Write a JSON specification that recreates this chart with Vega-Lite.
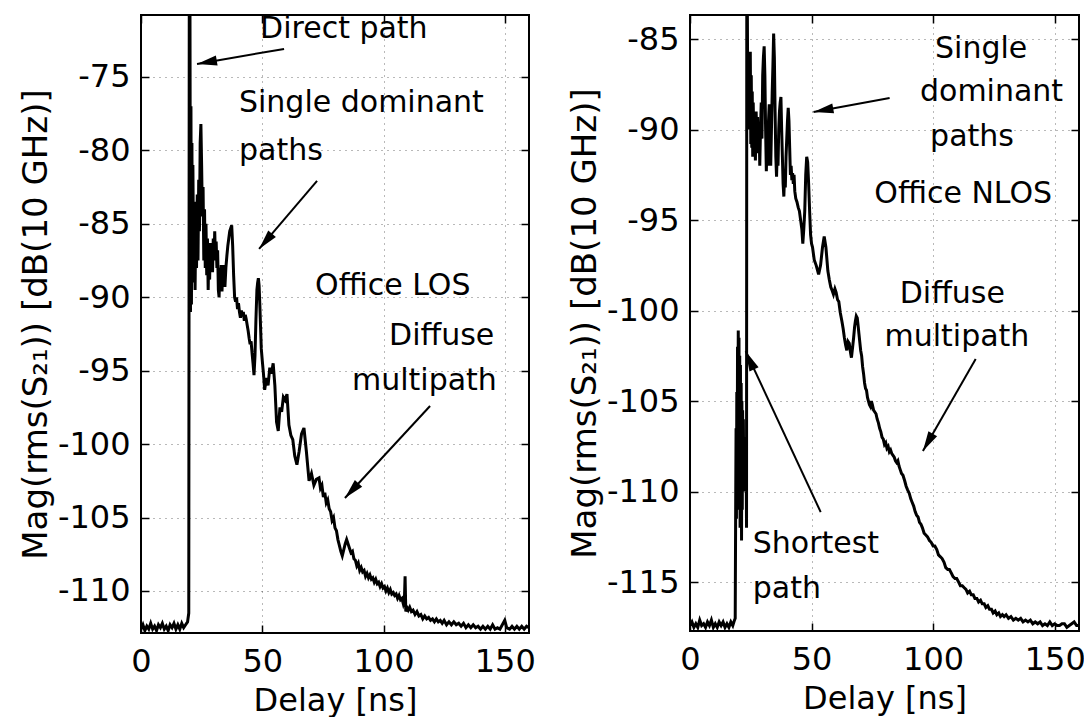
{
  "$schema": "https://vega.github.io/schema/vega-lite/v6.json",
  "background": "white",
  "padding": {"left": 18, "top": 12, "right": 4, "bottom": 0},
  "bounds": "flush",
  "spacing": 161,
  "config": {
    "font": "DejaVu Sans",
    "view": {"stroke": "black", "strokeWidth": 2},
    "axis": {
      "labelFont": "DejaVu Sans", "labelFontSize": 32, "labelColor": "black", "labelFlush": false,
      "titleFont": "DejaVu Sans", "titleFontWeight": "normal", "titleColor": "black",
      "domain": false, "tickColor": "black", "tickSize": -8, "tickWidth": 1.5,
      "grid": true, "gridColor": "black", "gridDash": [1, 5], "gridOpacity": 0.55, "gridWidth": 1,
      "labelExpr": "'' + datum.value"
    }
  },
  "datasets": {
    "los": [
      {"t":0,"v":-112.6},{"t":0.8,"v":-112.3},{"t":1.6,"v":-112.7},{"t":2.4,"v":-112.4},{"t":3.2,"v":-112.6},{"t":4.0,"v":-112.2},{"t":4.8,"v":-112.6},{"t":5.6,"v":-112.4},{"t":6.4,"v":-112.7},{"t":7.2,"v":-112.3},{"t":8.0,"v":-112.5},{"t":8.8,"v":-112.2},{"t":9.6,"v":-112.6},{"t":10.4,"v":-112.4},{"t":11.2,"v":-112.7},{"t":12.0,"v":-112.3},{"t":12.8,"v":-112.5},{"t":13.6,"v":-112.2},{"t":14.4,"v":-112.6},{"t":15.2,"v":-112.3},{"t":16.0,"v":-112.6},{"t":16.8,"v":-112.2},{"t":17.6,"v":-112.5},{"t":18.4,"v":-112.3},{"t":19.2,"v":-112.1},{"t":19.7,"v":-111.5},
      {"t":19.9,"v":-70.78},{"t":20.2,"v":-70.78},{"t":20.4,"v":-91.0},{"t":20.6,"v":-77.0},{"t":20.8,"v":-90.5},{"t":21.0,"v":-79.5},{"t":21.2,"v":-89.0},{"t":21.4,"v":-81.0},{"t":21.7,"v":-88.5},{"t":22.0,"v":-83.5},{"t":22.3,"v":-89.5},{"t":22.6,"v":-84.5},{"t":22.9,"v":-88.0},{"t":23.2,"v":-83.0},{"t":23.5,"v":-87.5},{"t":23.8,"v":-82.0},{"t":24.1,"v":-85.5},{"t":24.4,"v":-79.5},{"t":24.7,"v":-78.2},{"t":25.0,"v":-81.0},{"t":25.3,"v":-84.5},{"t":25.6,"v":-82.5},{"t":25.9,"v":-87.5},{"t":26.2,"v":-84.0},{"t":26.5,"v":-88.0},{"t":26.8,"v":-85.0},{"t":27.1,"v":-88.5},{"t":27.4,"v":-86.0},{"t":27.7,"v":-89.5},{"t":28.0,"v":-86.5},{"t":28.3,"v":-88.8},{"t":28.6,"v":-86.3},{"t":28.9,"v":-88.0},{"t":29.2,"v":-86.8},{"t":29.5,"v":-88.3},{"t":29.8,"v":-86.0},{"t":30.1,"v":-87.5},{"t":30.4,"v":-85.5},{"t":30.7,"v":-87.3},{"t":31.0,"v":-86.2},{"t":31.3,"v":-88.0},{"t":31.6,"v":-86.8},{"t":31.9,"v":-89.5},{"t":32.2,"v":-90.0},{"t":32.5,"v":-88.0},{"t":32.8,"v":-89.0},{"t":33.1,"v":-87.8},{"t":33.4,"v":-89.6},{"t":33.7,"v":-88.2},{"t":34.0,"v":-89.0},{"t":34.3,"v":-87.8},{"t":34.6,"v":-89.3},{"t":35.0,"v":-88.0},{"t":35.4,"v":-87.2},{"t":35.8,"v":-86.5},{"t":36.2,"v":-86.0},{"t":36.6,"v":-85.5},{"t":37.0,"v":-85.3},{"t":37.4,"v":-85.1},{"t":37.8,"v":-86.5},{"t":38.2,"v":-88.5},{"t":38.6,"v":-90.0},{"t":39.0,"v":-90.3},{"t":39.4,"v":-90.0},{"t":39.8,"v":-90.8},{"t":40.2,"v":-90.4},{"t":40.6,"v":-91.0},{"t":41.0,"v":-91.4},{"t":41.4,"v":-90.9},{"t":41.8,"v":-91.3},{"t":42.2,"v":-91.0},{"t":42.6,"v":-91.6},{"t":43.0,"v":-91.2},{"t":43.4,"v":-91.5},{"t":43.8,"v":-91.9},{"t":44.2,"v":-92.3},{"t":44.6,"v":-92.8},{"t":45.0,"v":-93.2},{"t":45.4,"v":-93.0},{"t":45.8,"v":-93.8},{"t":46.2,"v":-94.5},{"t":46.6,"v":-95.3},{"t":47.0,"v":-94.0},{"t":47.4,"v":-91.5},{"t":47.8,"v":-89.5},{"t":48.1,"v":-89.0},{"t":48.4,"v":-88.7},{"t":48.7,"v":-89.2},{"t":49.0,"v":-90.5},{"t":49.3,"v":-92.0},{"t":49.6,"v":-93.5},{"t":50.0,"v":-94.3},
      {"t":50.5,"v":-95.2},{"t":51.0,"v":-96.3},{"t":51.7,"v":-95.5},{"t":52.4,"v":-96.0},{"t":53.1,"v":-94.8},{"t":53.8,"v":-95.2},{"t":54.5,"v":-94.5},{"t":55.2,"v":-96.0},{"t":55.9,"v":-98.5},{"t":56.6,"v":-99.1},{"t":57.3,"v":-97.5},{"t":58.0,"v":-97.8},{"t":58.7,"v":-96.8},{"t":59.4,"v":-97.0},{"t":60.2,"v":-96.6},{"t":61.0,"v":-98.7},{"t":61.8,"v":-99.4},{"t":62.6,"v":-99.7},{"t":63.4,"v":-100.8},{"t":64.3,"v":-101.4},{"t":65.2,"v":-100.5},{"t":66.2,"v":-99.3},{"t":67.2,"v":-98.9},{"t":68.2,"v":-100.5},{"t":69.3,"v":-102.5},{"t":70.3,"v":-102.0},{"t":71.3,"v":-102.8},{"t":72.3,"v":-102.4},{"t":73.4,"v":-102.3},{"t":74.0,"v":-103.0},{"t":74.6,"v":-102.8},{"t":75.2,"v":-103.6},{"t":75.8,"v":-103.3},{"t":76.4,"v":-104.0},{"t":77.0,"v":-103.8},{"t":77.6,"v":-104.4},{"t":78.2,"v":-104.6},{"t":78.8,"v":-105.2},{"t":79.4,"v":-105.0},{"t":80.0,"v":-105.7},{"t":80.6,"v":-105.9},{"t":81.2,"v":-106.5},{"t":81.8,"v":-106.9},{"t":82.4,"v":-107.3},{"t":83.0,"v":-107.6},{"t":83.6,"v":-107.2},{"t":84.2,"v":-106.8},{"t":84.8,"v":-106.5},{"t":85.4,"v":-106.8},{"t":86.0,"v":-107.1},{"t":86.6,"v":-107.4},{"t":87.2,"v":-107.3},{"t":87.8,"v":-107.8},{"t":88.4,"v":-107.9},{"t":89.0,"v":-108.3},{"t":89.6,"v":-108.1},{"t":90.2,"v":-108.6},{"t":90.8,"v":-108.4},{"t":91.4,"v":-108.7},{"t":92.0,"v":-108.6},{"t":92.6,"v":-109.0},{"t":93.2,"v":-108.8},{"t":93.8,"v":-109.1},{"t":94.4,"v":-108.9},{"t":95.0,"v":-109.2},{"t":95.6,"v":-109.1},{"t":96.2,"v":-109.4},{"t":96.8,"v":-109.2},{"t":97.4,"v":-109.5},{"t":98.0,"v":-109.4},{"t":98.6,"v":-109.7},{"t":99.2,"v":-109.5},{"t":99.8,"v":-109.8},{"t":100.4,"v":-109.7},{"t":101.0,"v":-110.0},{"t":101.6,"v":-109.8},{"t":102.2,"v":-110.1},{"t":102.8,"v":-109.9},{"t":103.4,"v":-110.2},{"t":104.0,"v":-110.1},{"t":104.6,"v":-110.3},{"t":105.2,"v":-110.2},{"t":105.8,"v":-110.5},{"t":106.4,"v":-110.3},{"t":107.0,"v":-110.6},{"t":107.6,"v":-110.5},{"t":108.2,"v":-110.9},{"t":108.6,"v":-110.7},{"t":108.9,"v":-109.0},{"t":109.2,"v":-111.4},{"t":109.6,"v":-111.1},{"t":110.2,"v":-111.3},{"t":110.8,"v":-111.1},{"t":111.5,"v":-111.4},{"t":112.2,"v":-111.3},{"t":113.0,"v":-111.6},{"t":113.8,"v":-111.4},{"t":114.6,"v":-111.7},{"t":115.4,"v":-111.6},{"t":116.2,"v":-111.9},{"t":117.0,"v":-111.7},{"t":117.8,"v":-111.9},{"t":118.6,"v":-111.8},{"t":119.4,"v":-112.0},{"t":120.2,"v":-111.9},{"t":121.0,"v":-112.1},{"t":121.8,"v":-111.9},{"t":122.6,"v":-112.1},{"t":123.4,"v":-112.0},{"t":124.2,"v":-112.2},{"t":125.0,"v":-112.0},{"t":126,"v":-112.3},{"t":127,"v":-112.1},{"t":128,"v":-112.3},{"t":129,"v":-112.1},{"t":130,"v":-112.3},{"t":131,"v":-112.2},{"t":132,"v":-112.4},{"t":133,"v":-112.2},{"t":134,"v":-112.5},{"t":135,"v":-112.3},{"t":136,"v":-112.5},{"t":137,"v":-112.3},{"t":138,"v":-112.5},{"t":139,"v":-112.4},{"t":140,"v":-112.6},{"t":141,"v":-112.4},{"t":142,"v":-112.6},{"t":143,"v":-112.4},{"t":144,"v":-112.6},{"t":145,"v":-112.3},{"t":146,"v":-112.6},{"t":147,"v":-112.5},{"t":148,"v":-112.6},{"t":149,"v":-112.3},{"t":150,"v":-112.0},{"t":150.8,"v":-112.5},{"t":152,"v":-112.6},{"t":153,"v":-112.4},{"t":154,"v":-112.6},{"t":155,"v":-112.4},{"t":156,"v":-112.6},{"t":157,"v":-112.4},{"t":158,"v":-112.6},{"t":159,"v":-112.4},{"t":160,"v":-112.5}
    ],
    "nlos": [
      {"t":0,"v":-117.4},{"t":0.8,"v":-117.2},{"t":1.6,"v":-117.5},{"t":2.4,"v":-117.3},{"t":3.2,"v":-117.5},{"t":4.0,"v":-117.1},{"t":4.8,"v":-117.4},{"t":5.6,"v":-117.3},{"t":6.4,"v":-117.5},{"t":7.2,"v":-117.2},{"t":8.0,"v":-117.4},{"t":8.8,"v":-117.1},{"t":9.6,"v":-117.5},{"t":10.4,"v":-117.3},{"t":11.2,"v":-117.5},{"t":12.0,"v":-117.2},{"t":12.8,"v":-117.4},{"t":13.6,"v":-117.2},{"t":14.4,"v":-117.5},{"t":15.2,"v":-117.3},{"t":16.0,"v":-117.5},{"t":16.8,"v":-117.2},{"t":17.6,"v":-117.4},{"t":18.3,"v":-117.1},{"t":18.6,"v":-117.0},
      {"t":18.8,"v":-110.5},{"t":18.95,"v":-106.5},{"t":19.1,"v":-111.5},{"t":19.25,"v":-104.5},{"t":19.4,"v":-110.5},{"t":19.55,"v":-102.0},{"t":19.7,"v":-109.0},{"t":19.85,"v":-101.1},{"t":20.0,"v":-108.0},{"t":20.15,"v":-101.5},{"t":20.3,"v":-111.0},{"t":20.45,"v":-102.5},{"t":20.6,"v":-112.0},{"t":20.75,"v":-103.0},{"t":20.9,"v":-111.5},{"t":21.05,"v":-104.0},{"t":21.2,"v":-112.7},{"t":21.35,"v":-105.0},{"t":21.5,"v":-111.0},{"t":21.65,"v":-105.5},{"t":21.8,"v":-110.0},{"t":21.95,"v":-106.0},{"t":22.1,"v":-109.5},{"t":22.3,"v":-107.0},{"t":22.5,"v":-110.0},{"t":22.7,"v":-107.5},{"t":22.9,"v":-109.5},{"t":23.1,"v":-108.5},{"t":23.25,"v":-112.0},
      {"t":23.35,"v":-83.67},{"t":23.6,"v":-83.67},{"t":23.8,"v":-90.0},{"t":24.0,"v":-86.0},{"t":24.2,"v":-89.5},{"t":24.4,"v":-85.8},{"t":24.6,"v":-88.0},{"t":24.8,"v":-85.7},{"t":25.0,"v":-90.8},{"t":25.2,"v":-87.0},{"t":25.4,"v":-91.0},{"t":25.6,"v":-87.9},{"t":25.8,"v":-91.5},{"t":26.0,"v":-88.5},{"t":26.3,"v":-91.0},{"t":26.6,"v":-89.5},{"t":26.9,"v":-91.7},{"t":27.2,"v":-89.0},{"t":27.5,"v":-90.5},{"t":27.8,"v":-89.3},{"t":28.1,"v":-91.3},{"t":28.4,"v":-89.6},{"t":28.7,"v":-92.0},{"t":29.0,"v":-90.0},{"t":29.3,"v":-88.5},{"t":29.6,"v":-90.5},{"t":29.9,"v":-87.0},{"t":30.2,"v":-86.0},{"t":30.5,"v":-85.4},{"t":30.8,"v":-87.0},{"t":31.1,"v":-90.0},{"t":31.4,"v":-92.3},{"t":31.7,"v":-90.5},{"t":32.0,"v":-92.0},{"t":32.3,"v":-89.5},{"t":32.6,"v":-88.6},{"t":32.9,"v":-90.5},{"t":33.2,"v":-92.0},{"t":33.5,"v":-90.0},{"t":33.8,"v":-88.0},{"t":34.1,"v":-86.5},{"t":34.4,"v":-84.7},{"t":34.7,"v":-86.0},{"t":35.0,"v":-89.0},{"t":35.3,"v":-91.5},{"t":35.6,"v":-92.6},{"t":35.9,"v":-91.0},{"t":36.2,"v":-92.0},{"t":36.5,"v":-90.0},{"t":36.8,"v":-89.0},{"t":37.1,"v":-88.5},{"t":37.4,"v":-88.2},{"t":37.7,"v":-90.0},{"t":38.0,"v":-91.5},{"t":38.3,"v":-93.0},{"t":38.6,"v":-93.7},{"t":38.9,"v":-92.5},{"t":39.2,"v":-93.2},{"t":39.5,"v":-91.5},{"t":39.8,"v":-90.5},{"t":40.1,"v":-89.5},{"t":40.4,"v":-88.8},{"t":40.7,"v":-89.5},{"t":41.0,"v":-91.0},{"t":41.3,"v":-92.5},{"t":41.6,"v":-92.0},{"t":41.9,"v":-92.8},{"t":42.2,"v":-92.4},{"t":42.5,"v":-93.0},{"t":42.8,"v":-92.5},{"t":43.1,"v":-93.4},{"t":43.5,"v":-93.8},{"t":44.0,"v":-94.0},{"t":44.5,"v":-94.3},{"t":45.0,"v":-94.5},{"t":45.5,"v":-95.0},{"t":46.0,"v":-95.5},{"t":46.4,"v":-96.3},{"t":46.8,"v":-95.5},{"t":47.2,"v":-94.5},{"t":47.6,"v":-92.5},{"t":48.0,"v":-91.5},{"t":48.4,"v":-91.8},{"t":48.8,"v":-93.0},{"t":49.2,"v":-94.5},{"t":49.6,"v":-95.8},{"t":50.0,"v":-96.3},
      {"t":50.4,"v":-96.5},{"t":51.1,"v":-97.2},{"t":51.9,"v":-97.5},{"t":52.9,"v":-98.0},{"t":53.7,"v":-97.5},{"t":54.5,"v":-96.5},{"t":55.2,"v":-95.9},{"t":55.9,"v":-96.5},{"t":56.7,"v":-97.8},{"t":57.3,"v":-98.3},{"t":57.9,"v":-98.7},{"t":58.5,"v":-98.9},{"t":59.0,"v":-99.1},{"t":59.6,"v":-98.8},{"t":60.1,"v":-99.0},{"t":60.7,"v":-99.4},{"t":61.2,"v":-99.5},{"t":61.8,"v":-100.1},{"t":62.5,"v":-100.6},{"t":63.0,"v":-101.0},{"t":63.5,"v":-101.5},{"t":64.0,"v":-101.9},{"t":64.5,"v":-102.2},{"t":65.0,"v":-101.7},{"t":65.5,"v":-101.8},{"t":66.0,"v":-102.3},{"t":66.4,"v":-102.6},{"t":66.9,"v":-102.0},{"t":67.3,"v":-101.5},{"t":67.7,"v":-100.9},{"t":68.0,"v":-100.6},{"t":68.4,"v":-100.3},{"t":68.8,"v":-100.4},{"t":69.2,"v":-100.9},{"t":69.5,"v":-101.3},{"t":70.2,"v":-102.2},{"t":70.6,"v":-102.5},{"t":71.0,"v":-103.1},{"t":71.4,"v":-103.5},{"t":71.8,"v":-104.0},{"t":72.2,"v":-104.3},{"t":72.6,"v":-104.4},{"t":73.0,"v":-104.8},{"t":73.4,"v":-105.0},{"t":73.8,"v":-105.2},{"t":74.2,"v":-105.3},{"t":74.6,"v":-105.0},{"t":75.0,"v":-105.2},{"t":75.5,"v":-105.5},{"t":76.0,"v":-105.6},{"t":76.5,"v":-105.7},{"t":77.0,"v":-106.0},{"t":77.5,"v":-106.2},{"t":78.0,"v":-106.5},{"t":78.5,"v":-106.7},{"t":79.0,"v":-107.0},{"t":79.5,"v":-107.1},{"t":80.0,"v":-107.4},{"t":80.5,"v":-107.3},{"t":81.0,"v":-107.6},{"t":81.5,"v":-107.5},{"t":82.0,"v":-107.8},{"t":82.5,"v":-107.7},{"t":83.0,"v":-107.9},{"t":83.5,"v":-108.0},{"t":84.0,"v":-108.1},{"t":84.5,"v":-108.3},{"t":85.0,"v":-108.4},{"t":85.5,"v":-108.3},{"t":86.0,"v":-108.6},{"t":86.5,"v":-108.8},{"t":87.0,"v":-109.0},{"t":87.6,"v":-109.1},{"t":88.3,"v":-109.4},{"t":88.9,"v":-109.7},{"t":89.5,"v":-109.9},{"t":90.2,"v":-110.1},{"t":90.8,"v":-110.4},{"t":91.4,"v":-110.6},{"t":92.0,"v":-110.8},{"t":92.6,"v":-111.1},{"t":93.2,"v":-111.3},{"t":93.8,"v":-111.4},{"t":94.4,"v":-111.7},{"t":95.0,"v":-111.8},{"t":95.6,"v":-112.0},{"t":96.3,"v":-112.3},{"t":97.0,"v":-112.4},{"t":97.7,"v":-112.5},{"t":98.5,"v":-112.7},{"t":99.2,"v":-112.8},{"t":100.0,"v":-113.0},{"t":100.7,"v":-113.0},{"t":101.5,"v":-113.2},{"t":102.2,"v":-113.5},{"t":103.0,"v":-113.6},{"t":103.7,"v":-113.7},{"t":104.5,"v":-113.9},{"t":105.2,"v":-114.2},{"t":106.0,"v":-114.3},{"t":106.7,"v":-114.3},{"t":107.5,"v":-114.5},{"t":108.2,"v":-114.7},{"t":109.0,"v":-114.8},{"t":109.7,"v":-114.8},{"t":110.5,"v":-115.0},{"t":111.2,"v":-115.2},{"t":112.0,"v":-115.2},{"t":112.7,"v":-115.3},{"t":113.5,"v":-115.4},{"t":114.2,"v":-115.6},{"t":115.0,"v":-115.5},{"t":115.7,"v":-115.7},{"t":116.5,"v":-115.7},{"t":117.2,"v":-115.9},{"t":118.0,"v":-115.9},{"t":118.7,"v":-116.1},{"t":119.5,"v":-116.0},{"t":120.2,"v":-116.2},{"t":121.0,"v":-116.2},{"t":121.7,"v":-116.4},{"t":122.5,"v":-116.3},{"t":123.2,"v":-116.5},{"t":124.0,"v":-116.5},{"t":124.7,"v":-116.7},{"t":125.5,"v":-116.6},{"t":126.2,"v":-116.8},{"t":127.0,"v":-116.7},{"t":127.7,"v":-116.9},{"t":128.5,"v":-116.8},{"t":129.2,"v":-116.9},{"t":130.0,"v":-116.8},{"t":131,"v":-117.0},{"t":132,"v":-116.9},{"t":133,"v":-117.1},{"t":134,"v":-117.0},{"t":135,"v":-117.1},{"t":136,"v":-117.0},{"t":137,"v":-117.2},{"t":138,"v":-117.1},{"t":139,"v":-117.2},{"t":140,"v":-117.1},{"t":141,"v":-117.3},{"t":142,"v":-117.2},{"t":143,"v":-117.3},{"t":144,"v":-117.2},{"t":145,"v":-117.4},{"t":146,"v":-117.3},{"t":147,"v":-117.4},{"t":148,"v":-117.2},{"t":149,"v":-117.4},{"t":150,"v":-117.3},{"t":151,"v":-117.4},{"t":152,"v":-117.4},{"t":153,"v":-117.3},{"t":154,"v":-117.3},{"t":155,"v":-117.5},{"t":156,"v":-117.4},{"t":157,"v":-117.3},{"t":158,"v":-117.2},{"t":159,"v":-117.4},{"t":160,"v":-117.4}
    ],
    "losNotes": [
      {"t":49.1,"v":-71.73,"label":"Direct path"},
      {"t":40.4,"v":-76.77,"label":"Single dominant"},
      {"t":40.4,"v":-80.04,"label":"paths"},
      {"t":71.8,"v":-89.23,"label":"Office LOS"},
      {"t":102.3,"v":-92.64,"label":"Diffuse"},
      {"t":87.0,"v":-95.7,"label":"multipath"}
    ],
    "losArrows": [
      {"t":23.1,"v":-74.11,"t0":59.0,"v0":-73.09},
      {"t":48.7,"v":-86.71,"t0":72.6,"v0":-82.08},
      {"t":84.1,"v":-103.67,"t0":119.2,"v0":-97.4}
    ],
    "nlosNotes": [
      {"t":100.8,"v":-85.55,"label":"Single"},
      {"t":94.6,"v":-87.93,"label":"dominant"},
      {"t":98.75,"v":-90.41,"label":"paths"},
      {"t":75.8,"v":-93.56,"label":"Office NLOS"},
      {"t":86.25,"v":-99.09,"label":"Diffuse"},
      {"t":80.0,"v":-101.46,"label":"multipath"},
      {"t":25.8,"v":-112.9,"label":"Shortest"},
      {"t":25.8,"v":-115.39,"label":"path"}
    ],
    "nlosArrows": [
      {"t":50.8,"v":-89.03,"t0":82.1,"v0":-88.26},
      {"t":95.8,"v":-107.76,"t0":117.5,"v0":-102.68},
      {"t":22.9,"v":-102.24,"t0":53.75,"v0":-111.13}
    ]
  },
  "hconcat": [
    {
      "width": 388,
      "height": 618,
      "resolve": {"axis": {"x": "independent", "y": "independent"}},
      "layer": [
        {"data": {"name": "los"}, "mark": {"type": "line", "color": "black", "strokeWidth": 3, "clip": true},
         "encoding": {
           "x": {"field": "t", "type": "quantitative", "scale": {"domain": [0, 160], "nice": false, "zero": false},
                 "axis": {"values": [0, 50, 100, 150], "title": "Delay [ns]", "titleFontSize": 32, "labelPadding": 21, "titlePadding": 8}},
           "y": {"field": "v", "type": "quantitative", "scale": {"domain": [-112.86, -70.78], "nice": false, "zero": false},
                 "axis": {"values": [-110, -105, -100, -95, -90, -85, -80, -75], "title": "Mag(rms(S₂₁)) [dB(10 GHz)]", "titleFontSize": 34, "labelPadding": 19, "titlePadding": 4}}
         }},
        {"data": {"name": "losArrows"}, "mark": {"type": "rule", "color": "black", "strokeWidth": 2},
         "encoding": {
           "x": {"field": "t", "type": "quantitative", "scale": {"domain": [0, 160], "nice": false, "zero": false}, "axis": null},
           "y": {"field": "v", "type": "quantitative", "scale": {"domain": [-112.86, -70.78], "nice": false, "zero": false}, "axis": null},
           "x2": {"field": "t0"}, "y2": {"field": "v0"}}},
        {"data": {"name": "losArrows"},
         "transform": [{"calculate": "atan2((datum.t - datum.t0) * 2.425, (datum.v - datum.v0) * 14.686) * 180 / PI", "as": "ang"}],
         "mark": {"type": "point", "shape": "M0,0L-0.25,1L0.25,1Z", "filled": true, "size": 1600, "color": "black", "opacity": 1},
         "encoding": {
           "x": {"field": "t", "type": "quantitative", "scale": {"domain": [0, 160], "nice": false, "zero": false}, "axis": null},
           "y": {"field": "v", "type": "quantitative", "scale": {"domain": [-112.86, -70.78], "nice": false, "zero": false}, "axis": null},
           "angle": {"field": "ang", "type": "quantitative", "scale": null}}},
        {"data": {"name": "losNotes"}, "mark": {"type": "text", "align": "left", "baseline": "middle", "fontSize": 30, "font": "DejaVu Sans", "color": "black"},
         "encoding": {
           "x": {"field": "t", "type": "quantitative", "scale": {"domain": [0, 160], "nice": false, "zero": false}, "axis": null},
           "y": {"field": "v", "type": "quantitative", "scale": {"domain": [-112.86, -70.78], "nice": false, "zero": false}, "axis": null},
           "text": {"field": "label"}}},
        {"data": {"name": "losNotes"}, "mark": {"type": "point", "opacity": 0},
         "encoding": {
           "x": {"field": "t", "type": "quantitative", "scale": {"domain": [0, 160], "nice": false, "zero": false},
                 "axis": {"orient": "top", "values": [0, 50, 100, 150], "labels": false, "title": null, "grid": false}},
           "y": {"field": "v", "type": "quantitative", "scale": {"domain": [-112.86, -70.78], "nice": false, "zero": false},
                 "axis": {"orient": "right", "values": [-110, -105, -100, -95, -90, -85, -80, -75], "labels": false, "title": null, "grid": false}}}}
      ]
    },
    {
      "width": 389,
      "height": 616,
      "resolve": {"axis": {"x": "independent", "y": "independent"}},
      "layer": [
        {"data": {"name": "nlos"}, "mark": {"type": "line", "color": "black", "strokeWidth": 3, "clip": true},
         "encoding": {
           "x": {"field": "t", "type": "quantitative", "scale": {"domain": [0, 160], "nice": false, "zero": false},
                 "axis": {"values": [0, 50, 100, 150], "title": "Delay [ns]", "titleFontSize": 32, "labelPadding": 21, "titlePadding": 8}},
           "y": {"field": "v", "type": "quantitative", "scale": {"domain": [-117.7, -83.67], "nice": false, "zero": false},
                 "axis": {"values": [-115, -110, -105, -100, -95, -90, -85], "title": "Mag(rms(S₂₁)) [dB(10 GHz)]", "titleFontSize": 34, "labelPadding": 19, "titlePadding": 4}}
         }},
        {"data": {"name": "nlosArrows"}, "mark": {"type": "rule", "color": "black", "strokeWidth": 2},
         "encoding": {
           "x": {"field": "t", "type": "quantitative", "scale": {"domain": [0, 160], "nice": false, "zero": false}, "axis": null},
           "y": {"field": "v", "type": "quantitative", "scale": {"domain": [-117.7, -83.67], "nice": false, "zero": false}, "axis": null},
           "x2": {"field": "t0"}, "y2": {"field": "v0"}}},
        {"data": {"name": "nlosArrows"},
         "transform": [{"calculate": "atan2((datum.t - datum.t0) * 2.4, (datum.v - datum.v0) * 18.1) * 180 / PI", "as": "ang"}],
         "mark": {"type": "point", "shape": "M0,0L-0.25,1L0.25,1Z", "filled": true, "size": 1600, "color": "black", "opacity": 1},
         "encoding": {
           "x": {"field": "t", "type": "quantitative", "scale": {"domain": [0, 160], "nice": false, "zero": false}, "axis": null},
           "y": {"field": "v", "type": "quantitative", "scale": {"domain": [-117.7, -83.67], "nice": false, "zero": false}, "axis": null},
           "angle": {"field": "ang", "type": "quantitative", "scale": null}}},
        {"data": {"name": "nlosNotes"}, "mark": {"type": "text", "align": "left", "baseline": "middle", "fontSize": 30, "font": "DejaVu Sans", "color": "black"},
         "encoding": {
           "x": {"field": "t", "type": "quantitative", "scale": {"domain": [0, 160], "nice": false, "zero": false}, "axis": null},
           "y": {"field": "v", "type": "quantitative", "scale": {"domain": [-117.7, -83.67], "nice": false, "zero": false}, "axis": null},
           "text": {"field": "label"}}},
        {"data": {"name": "nlosNotes"}, "mark": {"type": "point", "opacity": 0},
         "encoding": {
           "x": {"field": "t", "type": "quantitative", "scale": {"domain": [0, 160], "nice": false, "zero": false},
                 "axis": {"orient": "top", "values": [0, 50, 100, 150], "labels": false, "title": null, "grid": false}},
           "y": {"field": "v", "type": "quantitative", "scale": {"domain": [-117.7, -83.67], "nice": false, "zero": false},
                 "axis": {"orient": "right", "values": [-115, -110, -105, -100, -95, -90, -85], "labels": false, "title": null, "grid": false}}}}
      ]
    }
  ]
}
